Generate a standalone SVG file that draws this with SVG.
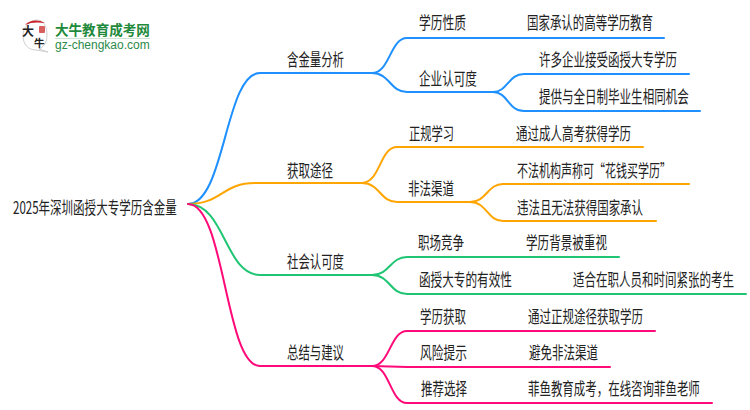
<svg xmlns="http://www.w3.org/2000/svg" width="750" height="410" viewBox="0 0 750 410">
<style>
text{font-family:"Noto Sans CJK SC","Liberation Sans",sans-serif;font-size:17.5px;fill:#222}
.c{fill:none;stroke-width:2;stroke-linecap:round}
.b{stroke:#1e90ff}.o{stroke:#ffa500}.g{stroke:#1fc573}.p{stroke:#ff0a78}
</style>
<rect width="750" height="410" fill="#fff"/>
<g id="logo">
<path d="M23 36C23 26 31 20 37 20C44 20 47 27 47 35C47 44 42 48 39 49L48 52L36 50C28 50 23 44 23 36Z" fill="#fff" stroke="#cfcfcf" stroke-width="1"/>
<path d="M25 25C29 20 38 19 45 23C38 22 31 22 25 25Z" fill="#c8262b"/>
<rect x="39" y="26" width="6" height="7" rx="1" fill="#d7605e"/>
<text x="22" y="36" style="font-size:12px;fill:#222;font-weight:700">大</text>
<text x="34" y="47" style="font-size:10.5px;fill:#222;font-weight:700">牛</text>
<text transform="translate(55 35) scale(.969 1)" style="font-size:14px;font-weight:700;fill:#1f8a3c">大牛教育成考网</text>
<rect x="55" y="38" width="95" height="1" fill="#cfe3d5"/>
<text x="55" y="49" style="font-family:'Liberation Sans',sans-serif;font-size:12px;fill:#2b8a4a">gz-chengkao.com</text>
</g>
<g id="connectors">
<path class="c b" d="M188 204C225 204 225 73 260 73H372"/>
<path class="c b" d="M372 73C390 73 390 38 407 38H664"/>
<path class="c b" d="M372 73C390 73 390 92 407 92H493"/>
<path class="c b" d="M493 92C508 92 508 74 524 74H689"/>
<path class="c b" d="M493 92C508 92 508 111 524 111H700"/>
<path class="c o" d="M188 204C222 204 222 183 255 183H362"/>
<path class="c o" d="M362 183C380 183 380 147 397 147H643"/>
<path class="c o" d="M362 183C380 183 380 202 397 202H470"/>
<path class="c o" d="M470 202C487 202 487 184 503 184H689"/>
<path class="c o" d="M470 202C487 202 487 221 503 221H656"/>
<path class="c g" d="M188 204C225 204 225 275 260 275H372"/>
<path class="c g" d="M372 275C390 275 390 257 407 257H619"/>
<path class="c g" d="M372 275C390 275 390 294 407 294H746"/>
<path class="c p" d="M188 204C225 204 225 366 260 366H372"/>
<path class="c p" d="M372 366C390 366 390 331 407 331H655"/>
<path class="c p" d="M372 366C390 366 390 367 407 367H610"/>
<path class="c p" d="M372 366C390 366 390 403 407 403H712"/>
</g>
<g id="root"><text transform="translate(13 214) scale(.659 1)">2025年深圳函授大专学历含金量</text></g>
<g id="n1"><text transform="translate(287 66) scale(.651 1)">含金量分析</text></g>
<g id="n1-1"><text transform="translate(419 29) scale(.671 1)">学历性质</text></g>
<g id="n1-1-1"><text transform="translate(527 29) scale(.655 1)">国家承认的高等学历教育</text></g>
<g id="n1-2"><text transform="translate(419 85) scale(.663 1)">企业认可度</text></g>
<g id="n1-2-1"><text transform="translate(539 66) scale(.657 1)">许多企业接受函授大专学历</text></g>
<g id="n1-2-2"><text transform="translate(539 103) scale(.659 1)">提供与全日制毕业生相同机会</text></g>
<g id="n2"><text transform="translate(287 177) scale(.657 1)">获取途径</text></g>
<g id="n2-1"><text transform="translate(409 140) scale(.643 1)">正规学习</text></g>
<g id="n2-1-1"><text transform="translate(516 140) scale(.657 1)">通过成人高考获得学历</text></g>
<g id="n2-2"><text transform="translate(408 195) scale(.657 1)">非法渠道</text></g>
<g id="n2-2-1"><text transform="translate(517 177) scale(.629 1)">不法机构声称可“花钱买学历”</text></g>
<g id="n2-2-2"><text transform="translate(517 214) scale(.655 1)">违法且无法获得国家承认</text></g>
<g id="n3"><text transform="translate(287 268) scale(.651 1)">社会认可度</text></g>
<g id="n3-1"><text transform="translate(418 249) scale(.657 1)">职场竞争</text></g>
<g id="n3-1-1"><text transform="translate(526 249) scale(.661 1)">学历背景被重视</text></g>
<g id="n3-2"><text transform="translate(419 286) scale(.664 1)">函授大专的有效性</text></g>
<g id="n3-2-1"><text transform="translate(573 286) scale(.657 1)">适合在职人员和时间紧张的考生</text></g>
<g id="n4"><text transform="translate(287 359) scale(.651 1)">总结与建议</text></g>
<g id="n4-1"><text transform="translate(420 323) scale(.657 1)">学历获取</text></g>
<g id="n4-1-1"><text transform="translate(528 323) scale(.657 1)">通过正规途径获取学历</text></g>
<g id="n4-2"><text transform="translate(420 359) scale(.671 1)">风险提示</text></g>
<g id="n4-2-1"><text transform="translate(529 359) scale(.657 1)">避免非法渠道</text></g>
<g id="n4-3"><text transform="translate(421 395) scale(.657 1)">推荐选择</text></g>
<g id="n4-3-1"><text transform="translate(528 395) scale(.655 1)">菲鱼教育成考，在线咨询菲鱼老师</text></g>
</svg>
